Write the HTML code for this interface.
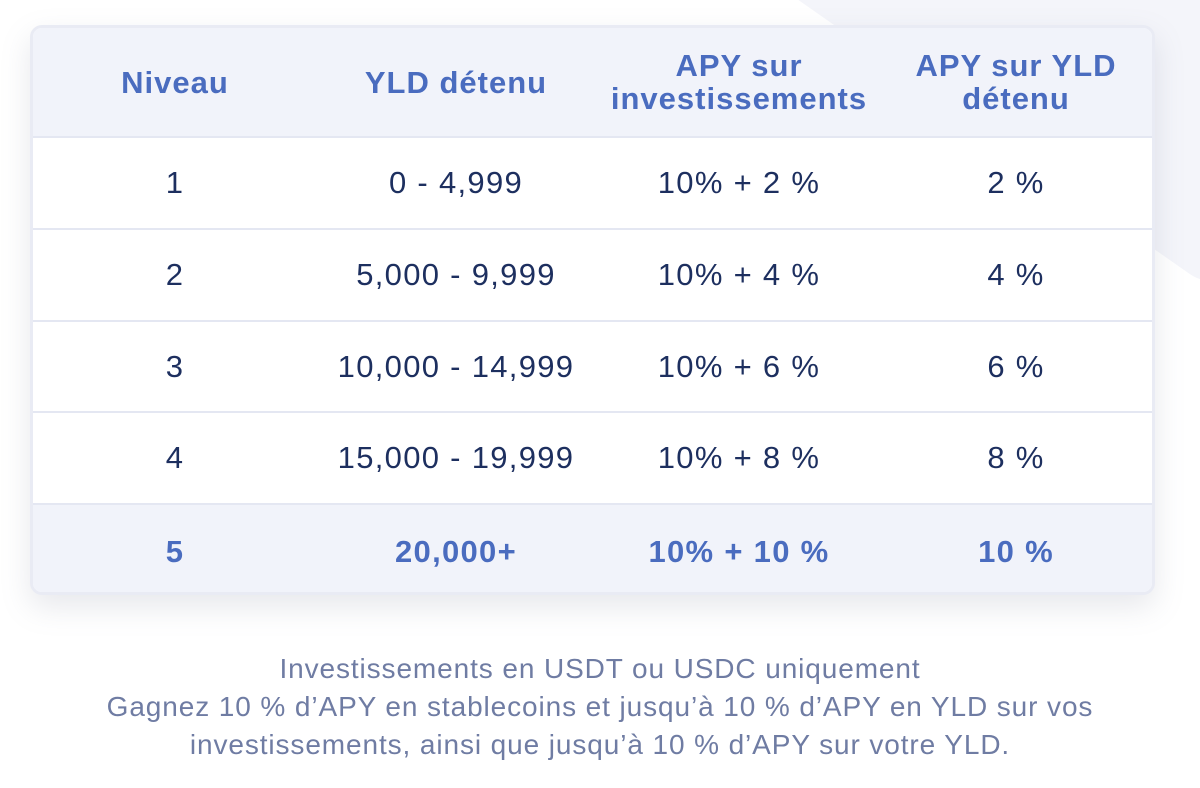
<!DOCTYPE html>
<html><head><meta charset="utf-8"><style>
html,body{margin:0;padding:0;width:1200px;height:788px;overflow:hidden;background:#fff;font-family:"Liberation Sans","DejaVu Sans",sans-serif;}
.bgshape{position:absolute;left:820px;top:-330px;width:600px;height:500px;background:#f4f5fa;transform:rotate(35deg);border-radius:40px;}
.card{position:absolute;left:30px;top:25px;width:1125px;height:570px;background:#fff;border:3px solid #e9ebf4;border-radius:12px;box-sizing:border-box;box-shadow:0 12px 30px rgba(120,125,150,0.18);overflow:hidden;}
.row{position:absolute;left:0;width:100%;display:flex;align-items:center;border-top:2px solid #e4e7f2;box-sizing:border-box;}
.row div{position:absolute;transform:translateX(-50%);text-align:center;white-space:nowrap;}
.head{background:#f1f3fa;border-top:none;color:#4a6cbf;font-weight:bold;font-size:31px;line-height:33px;letter-spacing:1px;}
.body{color:#1d2f5f;font-size:31px;letter-spacing:1.3px;}
.last{background:#f1f3fa;color:#4a6cbf;font-weight:bold;}
.foot{position:absolute;left:0;width:1200px;top:650px;text-align:center;color:#6f7ca3;font-size:28px;line-height:38px;letter-spacing:0.9px;}
</style></head><body>
<div class="bgshape"></div>
<div class="card">
 <div class="row head" style="top:0;height:108px">
  <div style="left:142px">Niveau</div>
  <div style="left:423px">YLD détenu</div>
  <div style="left:706px">APY sur<br>investissements</div>
  <div style="left:983px">APY sur YLD<br>détenu</div>
 </div>
 <div class="row body" style="top:108px;height:92px"><div style="left:142px">1</div><div style="left:423px">0 - 4,999</div><div style="left:706px">10% + 2 %</div><div style="left:983px">2 %</div></div>
 <div class="row body" style="top:200px;height:92px"><div style="left:142px">2</div><div style="left:423px">5,000 - 9,999</div><div style="left:706px">10% + 4 %</div><div style="left:983px">4 %</div></div>
 <div class="row body" style="top:292px;height:91px"><div style="left:142px">3</div><div style="left:423px">10,000 - 14,999</div><div style="left:706px">10% + 6 %</div><div style="left:983px">6 %</div></div>
 <div class="row body" style="top:383px;height:92px"><div style="left:142px">4</div><div style="left:423px">15,000 - 19,999</div><div style="left:706px">10% + 8 %</div><div style="left:983px">8 %</div></div>
 <div class="row body last" style="top:475px;height:95px"><div style="left:142px">5</div><div style="left:423px">20,000+</div><div style="left:706px">10% + 10 %</div><div style="left:983px">10 %</div></div>
</div>
<div class="foot">Investissements en USDT ou USDC uniquement<br>Gagnez 10 % d’APY en stablecoins et jusqu’à 10 % d’APY en YLD sur vos<br>investissements, ainsi que jusqu’à 10 % d’APY sur votre YLD.</div>
</body></html>
